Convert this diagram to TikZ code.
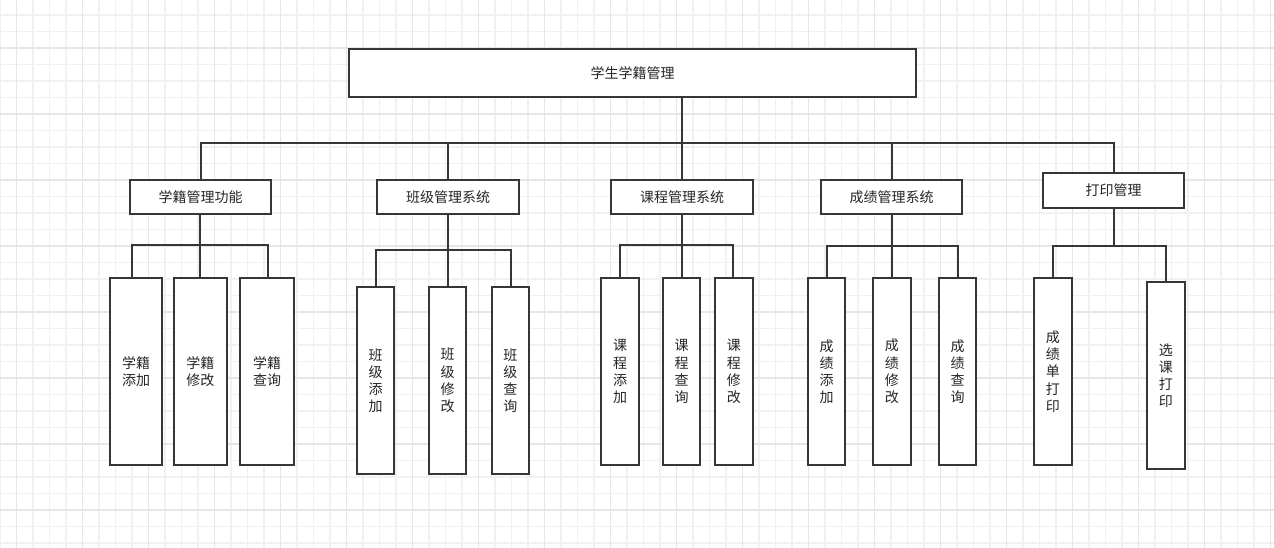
\documentclass[tikz,border=0pt]{standalone}
\usepackage{fontspec}
\newfontfamily\cjk{Noto Sans CJK SC}
\definecolor{linec}{HTML}{363636}
\definecolor{textc}{HTML}{262626}
\definecolor{gridminor}{HTML}{F1F1F1}
\definecolor{gridmajor}{HTML}{E6E6E6}
\begin{document}
\begin{tikzpicture}[x=1pt,y=-1pt,
  box/.style={draw=linec, line width=2pt, fill=white, text=textc, inner sep=0pt, align=center, font=\cjk\fontsize{14}{17.2}\selectfont},
  conn/.style={draw=linec, line width=2pt},
  gmin/.style={draw=gridminor, line width=1.6pt},
  gmaj/.style={draw=gridmajor, line width=1.6pt},
]
\fill[white] (0,0) rectangle (1274,548);
\useasboundingbox (0,0) rectangle (1274,548);
% grid
\foreach \k in {0,...,77} {\draw[gmin] ({16.5*\k},0) -- ({16.5*\k},548);}
\foreach \k in {0,...,32} {\draw[gmin] (0,{15+16.5*\k}) -- (1274,{15+16.5*\k});}
\foreach \k in {1,5,...,77} {\draw[gmaj] ({16.5*\k},0) -- ({16.5*\k},548);}
\foreach \k in {2,6,...,30} {\draw[gmaj] (0,{15+16.5*\k}) -- (1274,{15+16.5*\k});}

% root
\node[box, minimum width=567pt, minimum height=48pt] (root) at (632.5,73) {学生学籍管理};
% level 2
\node[box, minimum width=141pt, minimum height=34pt] (a) at (200.5,197) {学籍管理功能};
\node[box, minimum width=142pt, minimum height=34pt] (b) at (448,197) {班级管理系统};
\node[box, minimum width=142pt, minimum height=34pt] (c) at (682,197) {课程管理系统};
\node[box, minimum width=141pt, minimum height=34pt] (d) at (891.5,197) {成绩管理系统};
\node[box, minimum width=141pt, minimum height=35pt] (e) at (1113.5,190.5) {打印管理};
% level 3: a
\node[box, minimum width=52pt, minimum height=187pt] (a1) at (136,371.5) {学籍\\添加};
\node[box, minimum width=52.5pt, minimum height=187pt] (a2) at (200.25,371.5) {学籍\\修改};
\node[box, minimum width=54pt, minimum height=187pt] (a3) at (267,371.5) {学籍\\查询};
% b
\node[box, minimum width=37pt, minimum height=187pt] (b1) at (375.5,380.5) {班\\级\\添\\加};
\node[box, minimum width=37pt, minimum height=187pt] (b2) at (447.5,380.5) {班\\级\\修\\改};
\node[box, minimum width=37.5pt, minimum height=187pt] (b3) at (510.25,380.5) {班\\级\\查\\询};
% c
\node[box, minimum width=38pt, minimum height=187pt] (c1) at (620,371.5) {课\\程\\添\\加};
\node[box, minimum width=37pt, minimum height=187pt] (c2) at (681.5,371.5) {课\\程\\查\\询};
\node[box, minimum width=37.5pt, minimum height=187pt] (c3) at (733.75,371.5) {课\\程\\修\\改};
% d
\node[box, minimum width=37pt, minimum height=187pt] (d1) at (826.5,371.5) {成\\绩\\添\\加};
\node[box, minimum width=37.5pt, minimum height=187pt] (d2) at (891.75,371.5) {成\\绩\\修\\改};
\node[box, minimum width=37pt, minimum height=187pt] (d3) at (957.5,371.5) {成\\绩\\查\\询};
% e
\node[box, minimum width=37.5pt, minimum height=187pt] (e1) at (1052.75,371.5) {成\\绩\\单\\打\\印};
\node[box, minimum width=37.5pt, minimum height=187pt] (e2) at (1165.75,375.5) {选\\课\\打\\印};

% connectors level 1-2
\coordinate (bus) at (682,143);
\draw[conn] (root.south -| bus) -- (bus);
\draw[conn] (a.north) |- (bus) -| (e.north);
\draw[conn] (b.north) -- (b.north |- bus);
\draw[conn] (c.north) -- (c.north |- bus);
\draw[conn] (d.north) -- (d.north |- bus);

% group a
\coordinate (ja) at (200,245);
\draw[conn] (a.south -| ja) -- (ja);
\draw[conn] ([xshift=-4pt]a1.north) |- (ja) -| ([xshift=1pt]a3.north);
\draw[conn] (a2.north) -- (a2.north |- ja);
% group b
\coordinate (jb) at (447.5,250);
\draw[conn] (b.south -| jb) -- (jb);
\draw[conn] (b1.north) |- (jb) -| ([xshift=0.75pt]b3.north);
\draw[conn] (b2.north) -- (b2.north |- jb);
% group c
\coordinate (jc) at (681.5,245);
\draw[conn] (c.south -| jc) -- (jc);
\draw[conn] (c1.north) |- (jc) -| ([xshift=-0.75pt]c3.north);
\draw[conn] (c2.north) -- (c2.north |- jc);
% group d
\coordinate (jd) at (892,245.5);
\draw[conn] (d.south -| jd) -- (jd);
\draw[conn] (d1.north) |- (jd) -| (d3.north);
\draw[conn] (d2.north) -- (d2.north |- jd);
% group e
\coordinate (je) at (1113.5,246);
\draw[conn] (e.south) -- (je);
\draw[conn] ([xshift=-0.25pt]e1.north) |- (je) -| ([xshift=-0.25pt]e2.north);
\end{tikzpicture}
\end{document}
